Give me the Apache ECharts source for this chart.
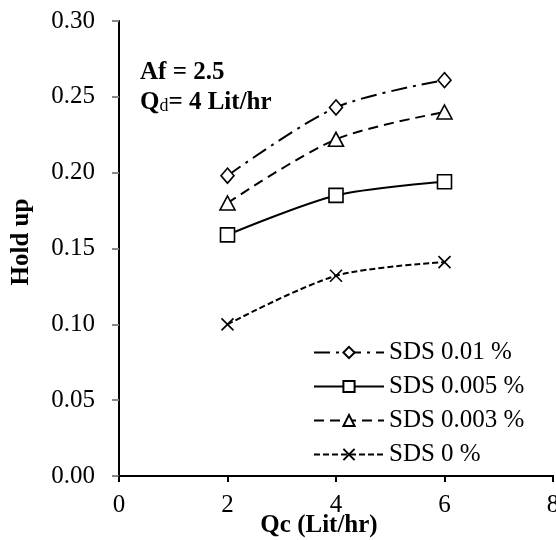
<!DOCTYPE html>
<html>
<head>
<meta charset="utf-8">
<script src="https://cdn.jsdelivr.net/npm/echarts@6/dist/echarts.min.js"></script>
<style>
html,body{margin:0;padding:0;background:#fff;overflow:hidden;}
#chart{width:556px;height:540px;}
</style>
</head>
<body>
<div id="chart"></div>
<script>
/*数据*/
var qc = [2, 4, 6];
var sds001 = [0.198, 0.243, 0.261];
var sds0005 = [0.159, 0.185, 0.194];
var sds0003 = [0.180, 0.222, 0.240];
var sds0 = [0.100, 0.132, 0.141];
var seriesNames = ['SDS 0.01 %', 'SDS 0.005 %', 'SDS 0.003 %', 'SDS 0 %'];

var FONT = '"Liberation Serif", "Times New Roman", serif';

function pairs(vals){
	var out = [];
	for (var i = 0; i < qc.length; i++) {
		out.push([qc[i], vals[i]]);
	}
	return out;
}

function lineSeries(name, vals, symbol, size, dash){
	return {
		name: name,
		type: 'line',
		data: pairs(vals),
		smooth: 0.3,
		symbol: symbol,
		symbolSize: size,
		showAllSymbol: true,
		lineStyle: { color: '#000', width: 2, type: dash },
		itemStyle: { color: '#fff', borderColor: '#000', borderWidth: 1.6 },
		emphasis: { disabled: true },
		z: 3
	};
}

var chart = echarts.init(document.getElementById('chart'));
var option = {
	animation: false,
	backgroundColor: '#fff',
	grid: { left: 119, top: 21, width: 434, height: 455, containLabel: false, outerBoundsMode: 'none' },
	legend: {
		orient: 'vertical',
		left: 313,
		top: 340,
		padding: 0,
		itemWidth: 70,
		itemHeight: 14,
		itemGap: 9,
		data: seriesNames,
		textStyle: { fontFamily: FONT, fontSize: 25, color: '#000' }
	},
	xAxis: [{
		type: 'value',
		min: 0,
		max: 8,
		interval: 2,
		position: 'bottom',
		splitLine: { show: false },
		axisLine: { show: true, onZero: false, lineStyle: { color: '#000', width: 2 } },
		axisTick: { show: true, inside: false, length: 6, lineStyle: { color: '#000', width: 2 } },
		axisLabel: { margin: 17, fontFamily: FONT, fontSize: 25, color: '#000' }
	}, {
		type: 'value',
		min: 0,
		max: 8,
		position: 'top',
		splitLine: { show: false },
		axisLine: { show: true, lineStyle: { color: '#000', width: 2 } },
		axisTick: { show: false },
		axisLabel: { show: false }
	}],
	yAxis: [{
		type: 'value',
		min: 0,
		max: 0.3,
		interval: 0.05,
		position: 'left',
		splitLine: { show: false },
		axisLine: { show: true, onZero: false, lineStyle: { color: '#888', width: 2 } },
		axisTick: { show: true, inside: false, length: 7, lineStyle: { color: '#888', width: 2 } },
		axisLabel: {
			margin: 24,
			fontFamily: FONT,
			fontSize: 25,
			color: '#000',
			formatter: function(v){ return v.toFixed(2); }
		}
	}, {
		type: 'value',
		min: 0,
		max: 0.3,
		position: 'right',
		splitLine: { show: false },
		axisLine: { show: true, lineStyle: { color: '#000', width: 2 } },
		axisTick: { show: false },
		axisLabel: { show: false }
	}],
	series: [
		lineSeries(seriesNames[0], sds001, 'diamond', [13, 15], [16, 6, 3, 6]),
		lineSeries(seriesNames[1], sds0005, 'rect', 14, 'solid'),
		lineSeries(seriesNames[2], sds0003, 'triangle', [15, 14], [10, 6]),
		lineSeries(seriesNames[3], sds0, 'path://M0,0L10,10M10,0L0,10', 12, [6, 3])
	],
	graphic: [{
		type: 'text',
		left: 140,
		top: 60,
		style: { text: 'Af = 2.5', font: 'bold 25px ' + FONT, fill: '#000' }
	}, {
		type: 'text',
		left: 140,
		top: 90,
		style: {
			text: '{a|Q}{b|d}{a|= 4 Lit/hr}',
			rich: {
				a: { fontFamily: FONT, fontWeight: 'bold', fontSize: 25, fill: '#000', verticalAlign: 'bottom' },
				b: { fontFamily: FONT, fontSize: 18, fill: '#000', verticalAlign: 'bottom' }
			}
		}
	}, {
		type: 'text',
		x: 319,
		y: 526,
		style: { text: 'Qc (Lit/hr)', font: 'bold 25px ' + FONT, fill: '#000', align: 'center', verticalAlign: 'middle' }
	}, {
		type: 'text',
		x: 22,
		y: 242,
		rotation: Math.PI / 2,
		style: { text: 'Hold up', font: 'bold 25px ' + FONT, fill: '#000', align: 'center', verticalAlign: 'middle' }
	}]
};
chart.setOption(option);
</script>
</body>
</html>
